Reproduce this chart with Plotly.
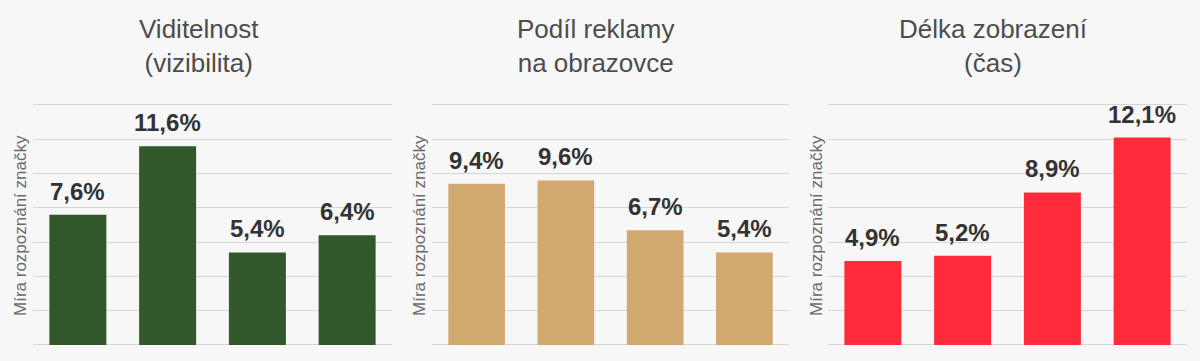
import plotly.graph_objects as go

categories = ["A", "B", "C", "D"]
panel_titles = ["Viditelnost<br>(vizibilita)", "Podíl reklamy<br>na obrazovce", "Délka zobrazení<br>(čas)"]
values_viditelnost = [7.6, 11.6, 5.4, 6.4]
values_podil = [9.4, 9.6, 6.7, 5.4]
values_delka = [4.9, 5.2, 8.9, 12.1]
y_title = "Míra rozpoznání značky"
colors = ["#31572a", "#d1a86f", "#ff2a3a"]

series = [values_viditelnost, values_podil, values_delka]

W, H = 1200, 361
x_domains = [(33, 392), (432, 789), (828, 1187)]
title_centers = [199, 596, 993]
ytitle_x = [20, 419, 816]
y_max = 14.15
px_per_unit = 240 / 14.0
y_bottom = 345
y_top = y_bottom - y_max * px_per_unit

fig = go.Figure()
annotations = []
for i, (vals, col) in enumerate(zip(series, colors)):
    xa = "x" if i == 0 else f"x{i+1}"
    ya = "y" if i == 0 else f"y{i+1}"
    fig.add_trace(go.Bar(x=categories, y=vals, marker=dict(color=col, line=dict(width=0)),
                         xaxis=xa, yaxis=ya, showlegend=False, hoverinfo="skip"))
    d0, d1 = x_domains[i]
    axkey = "xaxis" if i == 0 else f"xaxis{i+1}"
    aykey = "yaxis" if i == 0 else f"yaxis{i+1}"
    fig.layout[axkey] = dict(domain=[d0 / W, d1 / W], anchor=ya, showticklabels=False,
                             showgrid=False, zeroline=False, showline=False, ticks="",
                             fixedrange=True)
    fig.layout[aykey] = dict(domain=[(H - y_bottom) / H, (H - y_top) / H], anchor=xa,
                             range=[0, y_max], tickvals=[0, 2, 4, 6, 8, 10, 12, 14],
                             showticklabels=False, ticks="",
                             showgrid=True, gridcolor="#d6d6d6", gridwidth=1,
                             zeroline=True, zerolinecolor="#d6d6d6", zerolinewidth=1,
                             showline=False, fixedrange=True)
    for c, v in zip(categories, vals):
        annotations.append(dict(x=c, y=v, xref=xa, yref=ya,
                                text="<b>" + f"{v:.1f}%".replace(".", ",") + "</b>",
                                showarrow=False, yanchor="bottom", yshift=8,
                                font=dict(family="Liberation Sans, Arial", size=24, color="#333333")))
    annotations.append(dict(x=title_centers[i] / W, y=(H - 46) / H, xref="paper", yref="paper",
                            text=panel_titles[i], showarrow=False, xanchor="center", yanchor="middle",
                            font=dict(family="Liberation Sans, Arial", size=26, color="#4d4d4d")))
    annotations.append(dict(x=ytitle_x[i] / W, y=(H - 226) / H, xref="paper", yref="paper",
                            text=y_title, showarrow=False, textangle=-90,
                            xanchor="center", yanchor="middle",
                            font=dict(family="Liberation Sans, Arial", size=17, color="#6a6a6a")))

fig.update_layout(width=W, height=H, margin=dict(l=0, r=0, t=0, b=0),
                  paper_bgcolor="#f7f7f7", plot_bgcolor="#f7f7f7",
                  bargap=0.365, annotations=annotations)

fig.write_html("out.html", config={"displayModeBar": False})

with open("out.html", "r", encoding="utf-8") as f:
    html = f.read()
html = html.replace("<head>", "<head><style>html,body{margin:0;padding:0;overflow:hidden;}</style>", 1)
with open("out.html", "w", encoding="utf-8") as f:
    f.write(html)
